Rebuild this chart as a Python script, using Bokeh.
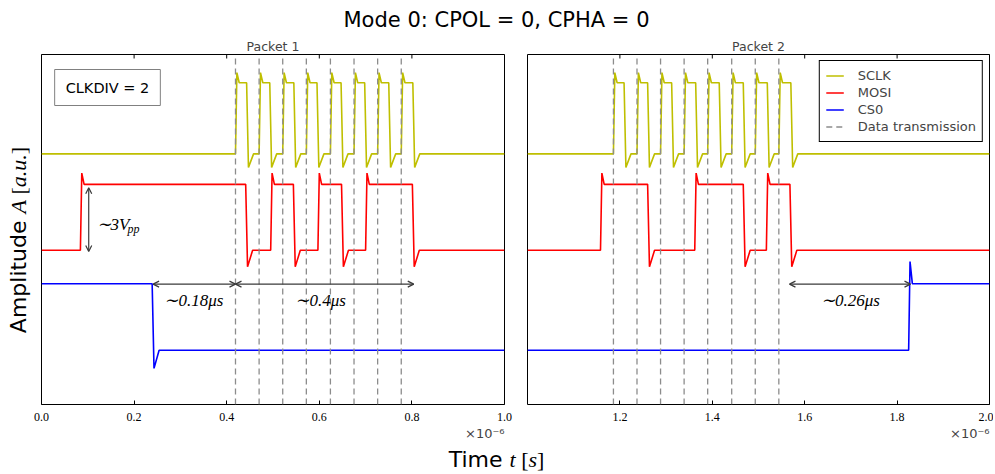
import math
from bokeh.plotting import figure
from bokeh.models import (Range1d, FixedTicker, PrintfTickFormatter, LinearAxis, Label, Title,
                          Arrow, OpenHead, Legend, LegendItem, Div)
from bokeh.layouts import row, column
from bokeh.embed import file_html
from bokeh.resources import INLINE

# ---------------- data (time in microseconds, amplitude in a.u.) ----------------
title_text = "Mode 0: CPOL = 0, CPHA = 0"
panel_titles = ["Packet 1", "Packet 2"]
p1_xlim = [0.0, 1.0]
p2_xlim = [1.0, 2.0]
amp_lim = [-2.4, 13.1]
p1_ticks = [0.0, 0.2, 0.4, 0.6, 0.8, 1.0]
p2_ticks = [1.2, 1.4, 1.6, 1.8, 2.0]
time_scale_text = "\u00d710\u207b\u2076"

# dashed "Data transmission" markers
p1_data_tx = [0.419, 0.470, 0.521, 0.572, 0.624, 0.675, 0.726, 0.777]
p2_data_tx = [1.186, 1.237, 1.288, 1.339, 1.390, 1.442, 1.493, 1.544]

# SCLK edges
p1_sclk_rise = [0.419, 0.470, 0.521, 0.572, 0.624, 0.675, 0.726, 0.777]
p1_sclk_fall = [0.443, 0.493, 0.545, 0.595, 0.647, 0.698, 0.750, 0.802]
p2_sclk_rise = [1.186, 1.237, 1.288, 1.339, 1.390, 1.442, 1.493, 1.544]
p2_sclk_fall = [1.209, 1.260, 1.312, 1.364, 1.415, 1.467, 1.519, 1.570]
sclk_levels = {"low": 8.7, "high": 11.85, "overshoot": 12.3, "undershoot": 8.1}

# MOSI edges
p1_mosi_rise = [0.084, 0.495, 0.597, 0.700]
p1_mosi_fall = [0.441, 0.544, 0.648, 0.801]
p2_mosi_rise = [1.158, 1.362, 1.517]
p2_mosi_fall = [1.260, 1.467, 1.568]
mosi_levels = {"low": 4.43, "high": 7.35, "overshoot": 7.85, "undershoot": 3.7}

# CS0 edges
p1_cs0_rise = []
p1_cs0_fall = [0.239]
p2_cs0_rise = [1.825]
p2_cs0_fall = []
cs0_levels = {"low": 0.0, "high": 2.95, "overshoot": 3.93, "undershoot": -0.8}

# annotations
p1_span_x0 = [0.241, 0.419]
p1_span_x1 = [0.419, 0.804]
p1_span_text = ["\u223c0.18\u03bcs", "\u223c0.4\u03bcs"]
p1_span_text_x = [0.329, 0.603]
p2_span_x0 = [1.567]
p2_span_x1 = [1.829]
p2_span_text = ["\u223c0.26\u03bcs"]
p2_span_text_x = [1.699]
span_y = 2.93
span_text_y = 2.22
vpp_x = 0.102
vpp_y = [4.38, 7.2]
vpp_text_x = 0.119
vpp_text_y = 5.57

SCLK_C, MOSI_C, CS0_C = "#bfbf00", "#ff0000", "#0000ff"
DASH_C = "#8c8c8c"
ARROW_C = "#3a3a3a"


def edge_trace(t0, t1, rises, falls, lv, start_high):
    edges = sorted([(t, 1) for t in rises] + [(t, 0) for t in falls])
    lo, hi, ov, un = lv["low"], lv["high"], lv["overshoot"], lv["undershoot"]
    level = hi if start_high else lo
    xs, ys = [t0], [level]
    for t, up in edges:
        xs.append(t); ys.append(level)
        if up:
            xs += [t + 0.003, t + 0.008]; ys += [ov, hi]; level = hi
        else:
            xs += [t + 0.004, t + 0.015]; ys += [un, lo]; level = lo
    xs.append(t1); ys.append(level)
    return xs, ys


yr = Range1d(*amp_lim)


def make_panel(xlim, ticks, width, bl, br, title):
    p = figure(width=width, height=408, x_range=Range1d(*xlim), y_range=yr,
               output_backend="svg", toolbar_location=None,
               x_axis_location=None, y_axis_location=None,
               min_border_left=bl, min_border_right=br, min_border_top=20, min_border_bottom=38,
               background_fill_color="white", border_fill_color="white")
    p.grid.visible = False
    p.outline_line_color = "black"
    p.outline_line_width = 1
    p.title.text = title
    p.title.align = "center"
    p.title.text_font = "DejaVu Sans"
    p.title.text_font_size = "12.5px"
    p.title.text_font_style = "normal"
    p.title.standoff = 2
    bottom = LinearAxis(ticker=FixedTicker(ticks=ticks), formatter=PrintfTickFormatter(format="%.1f"),
                        major_tick_in=4, major_tick_out=0, minor_tick_line_color=None,
                        axis_line_color=None, major_tick_line_color="black",
                        major_label_standoff=8, major_label_text_font="Liberation Serif",
                        major_label_text_font_size="12px", major_label_text_color="black")
    p.add_layout(bottom, "below")
    p.add_layout(Title(text=time_scale_text, align="right", text_font="DejaVu Sans",
                       text_font_size="13px", text_font_style="normal", standoff=0), "below")
    # inward tick marks on the top edge
    p.scatter(x=ticks, y=[amp_lim[1]] * len(ticks), marker="dash", angle=math.pi / 2,
              size=8, line_color="black", line_width=1)
    return p


p1 = make_panel(p1_xlim, p1_ticks, 482, 8, 11, panel_titles[0])
p2 = make_panel(p2_xlim, p2_ticks, 478, 12, 4, panel_titles[1])

renderers = {}
for p, xlim, sets in [
    (p1, p1_xlim, [(p1_sclk_rise, p1_sclk_fall, False), (p1_mosi_rise, p1_mosi_fall, False), (p1_cs0_rise, p1_cs0_fall, True)]),
    (p2, p2_xlim, [(p2_sclk_rise, p2_sclk_fall, False), (p2_mosi_rise, p2_mosi_fall, False), (p2_cs0_rise, p2_cs0_fall, False)]),
]:
    rs = []
    for (ri, fa, sh), lv, col in zip(sets, [sclk_levels, mosi_levels, cs0_levels], [SCLK_C, MOSI_C, CS0_C]):
        xs, ys = edge_trace(xlim[0], xlim[1], ri, fa, lv, sh)
        rs.append(p.line(xs, ys, line_color=col, line_width=1.6))
    renderers[id(p)] = rs

p1.segment(x0=p1_data_tx, y0=[amp_lim[0]] * len(p1_data_tx), x1=p1_data_tx, y1=[amp_lim[1]] * len(p1_data_tx),
           line_color=DASH_C, line_width=1.3, line_dash="6 4")
dash_r = p2.segment(x0=p2_data_tx, y0=[amp_lim[0]] * len(p2_data_tx), x1=p2_data_tx,
                    y1=[amp_lim[1]] * len(p2_data_tx), line_color=DASH_C, line_width=1.3, line_dash="6 4")

# arrows and texts
for p, x0s, x1s, txts, txs in [(p1, p1_span_x0, p1_span_x1, p1_span_text, p1_span_text_x),
                               (p2, p2_span_x0, p2_span_x1, p2_span_text, p2_span_text_x)]:
    for a, b in zip(x0s, x1s):
        p.add_layout(Arrow(x_start=a, y_start=span_y, x_end=b, y_end=span_y,
                           line_color=ARROW_C, line_width=1.2,
                           start=OpenHead(size=6, line_color=ARROW_C, line_width=1.2),
                           end=OpenHead(size=6, line_color=ARROW_C, line_width=1.2)))
    for t, tx in zip(txts, txs):
        p.add_layout(Label(x=tx, y=span_text_y, text=t, text_align="center", text_baseline="middle",
                           text_font="Liberation Serif", text_font_style="italic",
                           text_font_size="17px", text_color="black"))

p1.add_layout(Arrow(x_start=vpp_x, y_start=vpp_y[0], x_end=vpp_x, y_end=vpp_y[1],
                    line_color=ARROW_C, line_width=1.2,
                    start=OpenHead(size=6, line_color=ARROW_C, line_width=1.2),
                    end=OpenHead(size=6, line_color=ARROW_C, line_width=1.2)))
p1.add_layout(Label(x=vpp_text_x, y=vpp_text_y, text="\u223c3V", text_align="left", text_baseline="middle",
                    text_font="Liberation Serif", text_font_style="italic", text_font_size="17px",
                    text_color="black"))
p1.add_layout(Label(x=vpp_text_x, y=vpp_text_y, x_offset=31, y_offset=-4, text="pp", text_align="left",
                    text_baseline="middle", text_font="Liberation Serif", text_font_style="italic",
                    text_font_size="12px", text_color="black"))

# CLKDIV box
p1.add_layout(Label(x=66, y=317, x_units="screen", y_units="screen", text="CLKDIV = 2",
                    text_align="center", text_baseline="middle", text_font="DejaVu Sans",
                    text_font_size="14.5px", text_color="black", border_line_color="#808080",
                    border_line_width=1, background_fill_color="white", padding=(11, 10)))

# legend
r_sclk, r_mosi, r_cs0 = renderers[id(p2)]
legend = Legend(items=[LegendItem(label="SCLK", renderers=[r_sclk]),
                       LegendItem(label="MOSI", renderers=[r_mosi]),
                       LegendItem(label="CS0", renderers=[r_cs0]),
                       LegendItem(label="Data transmission", renderers=[dash_r])],
                location="top_right", margin=6, padding=6, spacing=0,
                glyph_width=18, glyph_height=17, label_height=17, label_standoff=14,
                label_text_font="DejaVu Sans", label_text_font_size="13px",
                border_line_color="black", border_line_width=1, border_line_alpha=1,
                background_fill_color="white", background_fill_alpha=1)
p2.add_layout(legend)

title_div = Div(text='<div style="width:977px;padding-left:16px;padding-top:8px;text-align:center;'
                     'font-family:\'DejaVu Sans\';font-size:21px;line-height:24px;color:black;">'
                     + title_text + '</div>',
                width=993, height=34, margin=(0, 0, 0, 0))

ylabel_div = Div(text='<div style="position:relative;width:33px;height:408px;">'
                      '<div style="position:absolute;left:19px;top:206px;transform:translate(-50%,-50%) rotate(-90deg);'
                      'white-space:nowrap;font-size:22px;line-height:24px;color:black;">'
                      '<span style="font-family:\'DejaVu Sans\';">Amplitude </span>'
                      '<span style="font-family:\'Liberation Serif\';font-style:italic;">A</span>'
                      '<span style="font-family:\'Liberation Serif\';"> [</span>'
                      '<span style="font-family:\'Liberation Serif\';font-style:italic;">a.u.</span>'
                      '<span style="font-family:\'Liberation Serif\';">]</span></div></div>',
                 width=33, height=408, margin=(0, 0, 0, 0))

xlabel_div = Div(text='<div style="width:985px;padding-left:8px;padding-top:6px;text-align:center;'
                      'font-size:22px;line-height:24px;color:black;">'
                      '<span style="font-family:\'DejaVu Sans\';">Time </span>'
                      '<span style="font-family:\'Liberation Serif\';font-style:italic;">t</span>'
                      '<span style="font-family:\'Liberation Serif\';"> [</span>'
                      '<span style="font-family:\'Liberation Serif\';font-style:italic;">s</span>'
                      '<span style="font-family:\'Liberation Serif\';">]</span></div>',
                 width=993, height=32, margin=(0, 0, 0, 0))

layout = column(title_div, row(ylabel_div, p1, p2), xlabel_div)
open("out.html", "w").write(file_html(layout, INLINE))
